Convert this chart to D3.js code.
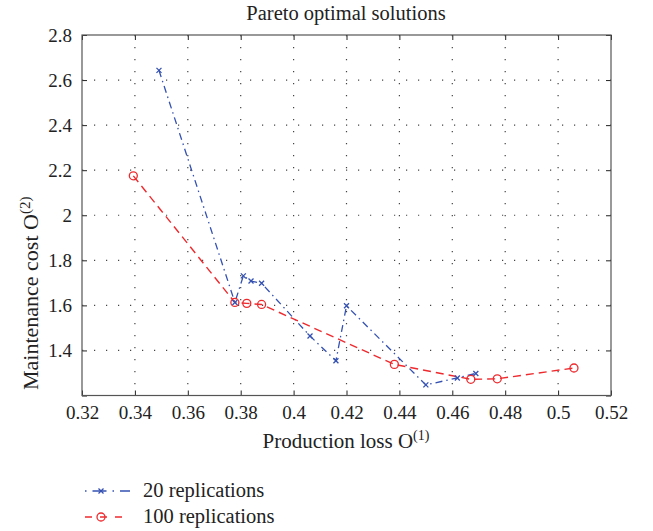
<!DOCTYPE html>
<html>
<head>
<meta charset="utf-8">
<script src="https://cdn.jsdelivr.net/npm/d3@7/dist/d3.min.js"></script>
<style>
  body { margin: 0; background: #fff; }
  svg text { font-family: "Liberation Serif", "DejaVu Serif", serif; fill: #222; }
</style>
</head>
<body>
<svg id="chart" width="653" height="531"></svg>
<script>
// values
const rep20_x = [0.3491, 0.3778, 0.3810, 0.3839, 0.3879, 0.4062, 0.4160, 0.4200, 0.4500, 0.4619, 0.4689];
const rep20_y = [2.643, 1.613, 1.731, 1.708, 1.698, 1.464, 1.354, 1.598, 1.247, 1.278, 1.298];
const rep100_x = [0.3394, 0.3778, 0.3823, 0.3879, 0.4381, 0.4670, 0.4770, 0.5060];
const rep100_y = [2.175, 1.613, 1.609, 1.604, 1.338, 1.272, 1.274, 1.322];
const x_ticks = [0.32, 0.34, 0.36, 0.38, 0.4, 0.42, 0.44, 0.46, 0.48, 0.5, 0.52];
const y_ticks = [1.2, 1.4, 1.6, 1.8, 2, 2.2, 2.4, 2.6, 2.8];
const series_names = ["20 replications", "100 replications"];

let svg = d3.select("#chart");
let m_left = 82, m_right = 611, m_top = 35, m_bottom = 395.5;

let x = d3.scaleLinear().domain([0.32, 0.52]).range([m_left, m_right]);
let y = d3.scaleLinear().domain([1.2, 2.8]).range([m_bottom, m_top]);

// dotted grid
let grid = svg.append("g");
grid.selectAll(".vgrid").data(x_ticks.slice(1, -1))
    .enter().append("line")
    .attr("x1", d => x(d)).attr("x2", d => x(d))
    .attr("y1", m_top).attr("y2", m_bottom)
    .style("stroke", "#444").style("stroke-width", 1.2)
    .style("stroke-dasharray", "1.2,10.8");
grid.selectAll(".hgrid").data(y_ticks.slice(1, -1))
    .enter().append("line")
    .attr("x1", m_left).attr("x2", m_right)
    .attr("y1", d => y(d)).attr("y2", d => y(d))
    .style("stroke", "#444").style("stroke-width", 1.2)
    .style("stroke-dasharray", "1.2,10.8");

// axes with inward ticks
let fmt = d => String(d);
svg.append("g").attr("transform", "translate(0," + m_bottom + ")")
    .call(d3.axisBottom(x).tickValues(x_ticks).tickSize(-5).tickPadding(10).tickFormat(fmt))
    .call(g => g.select(".domain").remove());
svg.append("g").attr("transform", "translate(0," + m_top + ")")
    .call(d3.axisTop(x).tickValues(x_ticks).tickSize(-5).tickFormat(""))
    .call(g => g.select(".domain").remove());
svg.append("g").attr("transform", "translate(" + m_left + ",0)")
    .call(d3.axisLeft(y).tickValues(y_ticks).tickSize(-5).tickPadding(10)
        .tickFormat(d => d === 1.2 ? "" : fmt(d)))
    .call(g => g.select(".domain").remove());
svg.append("g").attr("transform", "translate(" + m_right + ",0)")
    .call(d3.axisRight(y).tickValues(y_ticks).tickSize(-5).tickFormat(""))
    .call(g => g.select(".domain").remove());

svg.selectAll(".tick line").style("stroke", "#222");
svg.selectAll(".tick text").style("font-size", "19px")
    .style("font-family", "'Liberation Serif', serif").style("fill", "#222");

svg.append("rect")
    .attr("x", m_left).attr("y", m_top)
    .attr("width", m_right - m_left).attr("height", m_bottom - m_top)
    .style("fill", "none").style("stroke", "#555").style("stroke-width", 1.2);

// lines
let line = d3.line().x(d => x(d[0])).y(d => y(d[1]));
let blue = "#3451b2", red = "#ee2a2e";
let pts20 = rep20_x.map((v, i) => [v, rep20_y[i]]);
let pts100 = rep100_x.map((v, i) => [v, rep100_y[i]]);

svg.append("path").datum(pts20).attr("d", line)
    .style("fill", "none").style("stroke", blue).style("stroke-width", 1.3)
    .style("stroke-dasharray", "7,4,1.5,4");
svg.append("path").datum(pts100).attr("d", line)
    .style("fill", "none").style("stroke", red).style("stroke-width", 1.4)
    .style("stroke-dasharray", "8,5");

function cross(g, cx, cy, s) {
    g.append("path")
        .attr("d", "M" + (cx - s) + "," + (cy - s) + "L" + (cx + s) + "," + (cy + s) +
                   "M" + (cx - s) + "," + (cy + s) + "L" + (cx + s) + "," + (cy - s))
        .style("stroke", blue).style("stroke-width", 1.3).style("fill", "none");
}
let marks = svg.append("g");
pts20.forEach(d => cross(marks, x(d[0]), y(d[1]), 2.5));
marks.selectAll(".circ").data(pts100)
    .enter().append("circle")
    .attr("cx", d => x(d[0])).attr("cy", d => y(d[1])).attr("r", 4)
    .style("fill", "none").style("stroke", red).style("stroke-width", 1.3);

// title and labels
svg.append("text").attr("x", 346).attr("y", 20).attr("text-anchor", "middle")
    .style("font-size", "20.5px").text("Pareto optimal solutions");

let xl = svg.append("text").attr("x", 346).attr("y", 448).attr("text-anchor", "middle")
    .style("font-size", "21px");
xl.append("tspan").text("Production loss O");
xl.append("tspan").attr("dy", -8).style("font-size", "14px").text("(1)");

let yl = svg.append("text").attr("transform", "translate(38,390) rotate(-90)")
    .attr("text-anchor", "start").style("font-size", "22px");
yl.append("tspan").text("Maintenance cost O");
yl.append("tspan").attr("dy", -8).style("font-size", "15px").text("(2)");

// legend
let leg = svg.append("g");
let ly = [491, 517];
leg.append("line").attr("x1", 85).attr("x2", 130).attr("y1", ly[0]).attr("y2", ly[0])
    .style("stroke", blue).style("stroke-width", 1.3).style("stroke-dasharray", "1.5,6,14,6");
cross(leg, 101, ly[0], 2.5);
leg.append("line").attr("x1", 85).attr("x2", 130).attr("y1", ly[1]).attr("y2", ly[1])
    .style("stroke", red).style("stroke-width", 1.4).style("stroke-dasharray", "7,8");
leg.append("circle").attr("cx", 101).attr("cy", ly[1]).attr("r", 4)
    .style("fill", "none").style("stroke", red).style("stroke-width", 1.3);
leg.selectAll(".lt").data(series_names)
    .enter().append("text")
    .attr("x", 143).attr("y", (d, i) => ly[i] + 6)
    .style("font-size", "20.5px").text(d => d);
</script>
</body>
</html>
